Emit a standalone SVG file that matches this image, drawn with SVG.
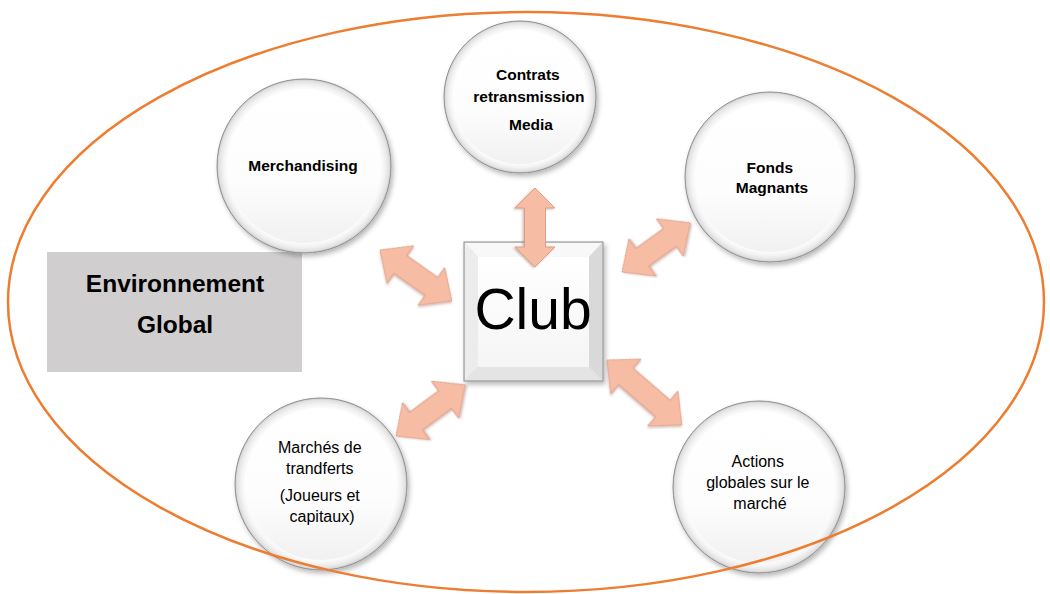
<svg xmlns="http://www.w3.org/2000/svg" width="1050" height="594" viewBox="0 0 1050 594">
  <style>
    .lbl { font-family: "Liberation Sans", Arial, sans-serif; fill: #000; text-anchor: middle; }
    .b { font-weight: bold; }
    .circ-rim { fill: url(#rimGrad); stroke: #8e8e8e; stroke-width: 1; filter: url(#softShadow); }
    .circ-face { fill: url(#faceGrad); }
    .arrow { fill: #F7BCA4; stroke: #E09C84; stroke-width: 1; filter: url(#arrowShadow); }
  </style>
  <defs>
    <radialGradient id="rimGrad" cx="0.5" cy="0.5" r="0.5">
      <stop offset="0.87" stop-color="#ffffff"/>
      <stop offset="0.93" stop-color="#f2f2f2"/>
      <stop offset="0.975" stop-color="#e2e2e2"/>
      <stop offset="1" stop-color="#c8c8c8"/>
    </radialGradient>
    <linearGradient id="faceGrad" x1="0" y1="0" x2="0" y2="1">
      <stop offset="0" stop-color="#ffffff"/>
      <stop offset="0.6" stop-color="#fdfdfd"/>
      <stop offset="1" stop-color="#f1f1f1"/>
    </linearGradient>
    <linearGradient id="boxFace" x1="0" y1="0" x2="0" y2="1">
      <stop offset="0" stop-color="#ffffff"/>
      <stop offset="1" stop-color="#f5f5f5"/>
    </linearGradient>
    <filter id="softShadow" x="-20%" y="-20%" width="140%" height="140%">
      <feDropShadow dx="2" dy="3" stdDeviation="2.5" flood-color="#000" flood-opacity="0.28"/>
    </filter>
    <filter id="arrowShadow" x="-20%" y="-20%" width="140%" height="140%">
      <feDropShadow dx="1" dy="1.5" stdDeviation="1.2" flood-color="#7a4a3a" flood-opacity="0.35"/>
    </filter>
  </defs>

  <!-- Environnement Global label box -->
  <g id="env-global">
    <rect x="47" y="252" width="255" height="120" fill="#D0CECE"/>
    <text class="lbl b" x="175" y="292" font-size="24.5">Environnement</text>
    <text class="lbl b" x="175" y="333" font-size="24.5">Global</text>
  </g>

  <!-- satellite nodes -->
  <g id="node-merchandising">
    <circle class="circ-rim" cx="304" cy="166" r="87"/>
    <circle class="circ-face" cx="304" cy="166" r="77"/>
    <text class="lbl b" x="303" y="171" font-size="15.5">Merchandising</text>
  </g>

  <g id="node-contrats">
    <circle class="circ-rim" cx="520" cy="97" r="76"/>
    <circle class="circ-face" cx="520" cy="97" r="67"/>
    <text class="lbl b" font-size="15.5">
      <tspan x="530" y="80">Contrats</tspan>
      <tspan x="531" y="102">retransmission</tspan>
      <tspan x="531" y="130">Media</tspan>
    </text>
  </g>

  <g id="node-fonds">
    <circle class="circ-rim" cx="770" cy="177" r="85"/>
    <circle class="circ-face" cx="770" cy="177" r="75"/>
    <text class="lbl b" font-size="15.5">
      <tspan x="772" y="173">Fonds</tspan>
      <tspan x="772" y="193">Magnants</tspan>
    </text>
  </g>

  <g id="node-marches">
    <circle class="circ-rim" cx="321" cy="484" r="86"/>
    <circle class="circ-face" cx="321" cy="484" r="76"/>
    <text class="lbl" font-size="16">
      <tspan x="322" y="453">Marchés de</tspan>
      <tspan x="322" y="474">trandferts</tspan>
      <tspan x="322" y="501">(Joueurs et</tspan>
      <tspan x="322" y="522">capitaux)</tspan>
    </text>
  </g>

  <g id="node-actions">
    <circle class="circ-rim" cx="759" cy="487" r="86"/>
    <circle class="circ-face" cx="759" cy="487" r="76"/>
    <text class="lbl" font-size="16">
      <tspan x="760" y="467">Actions</tspan>
      <tspan x="760" y="488">globales sur le</tspan>
      <tspan x="760" y="509">marché</tspan>
    </text>
  </g>

  <!-- central node: bevelled square -->
  <g id="node-club" filter="url(#softShadow)">
    <rect x="464" y="242" width="139" height="139" fill="#e2e2e2" stroke="#8c8c8c" stroke-width="1"/>
    <polygon points="465,243 602,243 589,257 478,257" fill="#f8f8f8"/>
    <polygon points="465,243 478,257 478,367 465,380" fill="#ececec"/>
    <polygon points="602,243 602,380 589,367 589,257" fill="#d9d9d9"/>
    <polygon points="465,380 478,367 589,367 602,380" fill="#e4e4e4"/>
    <rect x="478" y="257" width="111" height="110" fill="url(#boxFace)"/>
    <text class="lbl" x="533" y="329" font-size="57">Club</text>
  </g>

  <!-- connectors: double-headed block arrows -->
  <g id="connectors">
    <path class="arrow" d="M0,0 L20,-20 L20,-10.5 L59,-10.5 L59,-20 L79,0 L59,20 L59,10.5 L20,10.5 L20,20 Z" transform="translate(535,188) rotate(90)"/>
    <path class="arrow" d="M0,0 L25,-23 L25,-11 L63,-11 L63,-23 L88,0 L63,23 L63,11 L25,11 L25,23 Z" transform="translate(380,250) rotate(35.3)"/>
    <path class="arrow" d="M0,0 L25,-23 L25,-11 L59,-11 L59,-23 L84,0 L59,23 L59,11 L25,11 L25,23 Z" transform="translate(622,272) rotate(-35.8)"/>
    <path class="arrow" d="M0,0 L25,-23 L25,-11 L61,-11 L61,-23 L86,0 L61,23 L61,11 L25,11 L25,23 Z" transform="translate(396,436) rotate(-36.5)"/>
    <path class="arrow" d="M0,0 L25,-23 L25,-11 L74,-11 L74,-23 L99,0 L74,23 L74,11 L25,11 L25,23 Z" transform="translate(607,360) rotate(40.9)"/>
  </g>

  <!-- enclosing environment boundary -->
  <g id="environment-boundary">
    <ellipse cx="526" cy="302" rx="518" ry="290" fill="none" stroke="#ED7D31" stroke-width="2.5"/>
  </g>
</svg>
